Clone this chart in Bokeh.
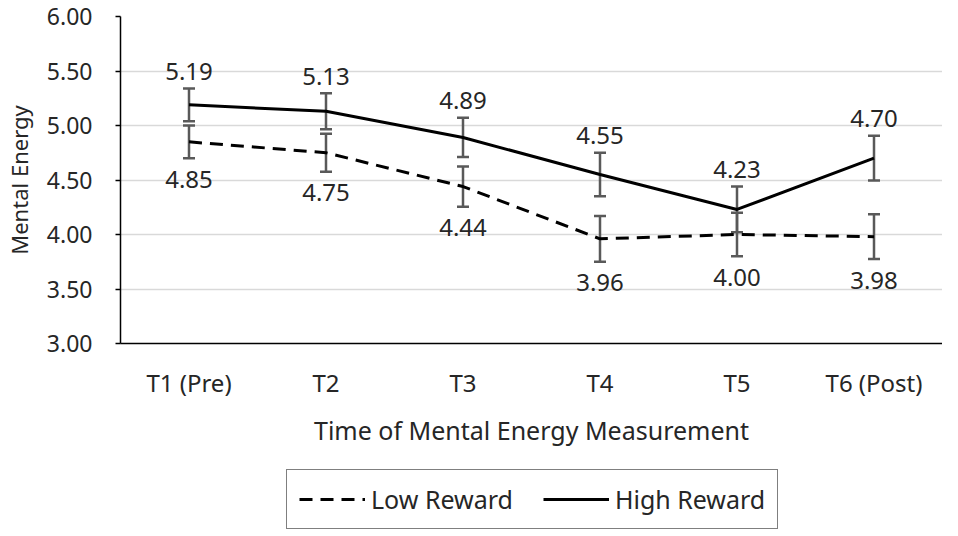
from bokeh.plotting import figure
from bokeh.models import (ColumnDataSource, Whisker, TeeHead, Legend, LegendItem,
                          FixedTicker, NumeralTickFormatter, LabelSet)
from bokeh.layouts import column
from bokeh.core.properties import value
from bokeh.embed import file_html
from bokeh.resources import INLINE

categories = ["T1 (Pre)", "T2", "T3", "T4", "T5", "T6 (Post)"]
low_reward = [4.85, 4.75, 4.44, 3.96, 4.00, 3.98]
high_reward = [5.19, 5.13, 4.89, 4.55, 4.23, 4.70]
low_err = [0.15, 0.175, 0.185, 0.21, 0.20, 0.205]
high_err = [0.15, 0.165, 0.18, 0.20, 0.21, 0.205]
y_ticks = [3.0, 3.5, 4.0, 4.5, 5.0, 5.5, 6.0]
series_names = ["Low Reward", "High Reward"]

FONT = "Noto Sans"
TXT = "#262626"
FS = "24px"

low_src = ColumnDataSource(dict(
    x=categories, y=low_reward,
    upper=[v + e for v, e in zip(low_reward, low_err)],
    lower=[v - e for v, e in zip(low_reward, low_err)],
    lab=["%.2f" % v for v in low_reward],
))
high_src = ColumnDataSource(dict(
    x=categories, y=high_reward,
    upper=[v + e for v, e in zip(high_reward, high_err)],
    lower=[v - e for v, e in zip(high_reward, high_err)],
    lab=["%.2f" % v for v in high_reward],
))

p = figure(width=942, height=460, x_range=categories, y_range=(3, 6),
           output_backend="svg", toolbar_location=None,
           min_border_left=110, min_border_right=0, min_border_top=16,
           min_border_bottom=117)
p.x_range.range_padding = 0
p.outline_line_color = None
p.background_fill_color = "white"
p.border_fill_color = "white"

# grid
p.xgrid.grid_line_color = None
p.ygrid.grid_line_color = "#d9d9d9"
p.ygrid.grid_line_width = 1.5
p.ygrid.ticker = FixedTicker(ticks=y_ticks)

# y axis
p.yaxis.ticker = FixedTicker(ticks=y_ticks)
p.yaxis.formatter = NumeralTickFormatter(format="0.00")
p.yaxis.axis_line_color = "black"
p.yaxis.axis_line_width = 1.5
p.yaxis.major_tick_line_color = "black"
p.yaxis.major_tick_line_width = 1.5
p.yaxis.major_tick_out = 5
p.yaxis.major_tick_in = 0
p.yaxis.minor_tick_line_color = None
p.yaxis.major_label_standoff = 23
p.yaxis.axis_label = "Mental Energy"
p.yaxis.axis_label_standoff = 10

# x axis
p.xaxis.axis_line_color = "black"
p.xaxis.axis_line_width = 1.5
p.xaxis.major_tick_line_color = None
p.xaxis.minor_tick_line_color = None
p.xaxis.major_label_standoff = 16
p.xaxis.axis_label = "Time of Mental Energy Measurement"
p.xaxis.axis_label_standoff = 11

for ax in (p.xaxis, p.yaxis):
    ax.major_label_text_font = FONT
    ax.major_label_text_font_size = FS
    ax.major_label_text_color = TXT
    ax.axis_label_text_font = FONT
    ax.axis_label_text_font_style = "normal"
    ax.axis_label_text_color = TXT
p.xaxis.axis_label_text_font_size = "25px"
p.yaxis.major_label_text_font_size = "23px"
p.yaxis.axis_label_text_font_size = "22px"

# error bars
for src in (low_src, high_src):
    w = Whisker(base="x", upper="upper", lower="lower", source=src,
                line_color="#595959", line_width=2.5,
                upper_head=TeeHead(size=12, line_color="#595959", line_width=2.5),
                lower_head=TeeHead(size=12, line_color="#595959", line_width=2.5))
    p.add_layout(w)

# lines
LOW_STYLE = dict(line_color="black", line_width=3, line_dash="13 8")
HIGH_STYLE = dict(line_color="black", line_width=3)
p.line("x", "y", source=low_src, **LOW_STYLE)
p.line("x", "y", source=high_src, **HIGH_STYLE)

# data labels
p.add_layout(LabelSet(x="x", y="upper", text="lab", source=high_src,
                      text_align="center", text_baseline="middle", y_offset=17,
                      text_font=value(FONT), text_font_size=value(FS),
                      text_color=TXT))
p.add_layout(LabelSet(x="x", y="lower", text="lab", source=low_src,
                      text_align="center", text_baseline="middle", y_offset=-21,
                      text_font=value(FONT), text_font_size=value(FS),
                      text_color=TXT))

# legend strip below the chart (its series lie outside its visible y range)
p2 = figure(width=942, height=72, output_backend="svg", toolbar_location=None,
            x_axis_location=None, y_axis_location=None,
            min_border=0, x_range=p.x_range, y_range=(10, 11))
p2.outline_line_color = None
p2.grid.visible = False
l_low = p2.line("x", "y", source=low_src, **LOW_STYLE)
l_high = p2.line("x", "y", source=high_src, **HIGH_STYLE)
legend = Legend(items=[LegendItem(label=series_names[0], renderers=[l_low]),
                       LegendItem(label=series_names[1], renderers=[l_high])],
                orientation="horizontal", location=(166, 3),
                label_text_font=FONT, label_text_font_size="25px",
                label_text_color=TXT,
                glyph_width=66, glyph_height=24, label_standoff=6,
                spacing=30, padding=12, margin=0,
                border_line_color="black", border_line_width=1.5,
                background_fill_color="white", background_fill_alpha=1)
p2.add_layout(legend, "center")

open("out.html", "w").write(file_html(column(p, p2, spacing=0), INLINE))
